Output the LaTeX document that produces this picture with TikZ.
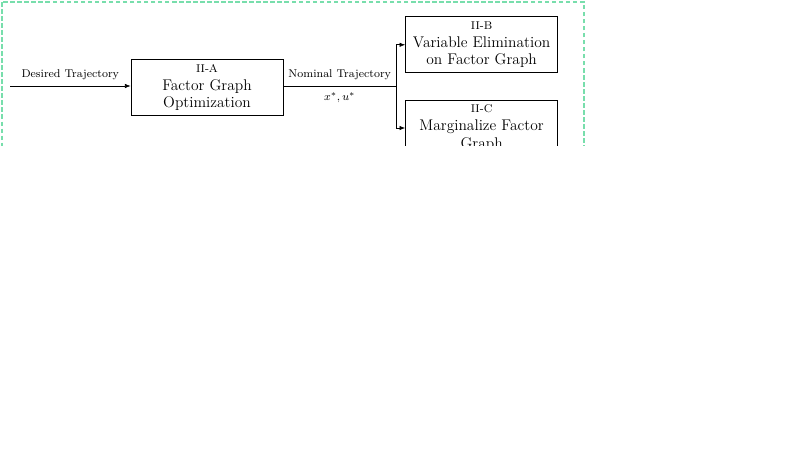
\documentclass[tikz,border=0pt]{standalone}
\usepackage{amsmath}
\usepackage{tikz}
\usetikzlibrary{arrows.meta,positioning,calc}
\definecolor{Frame}{HTML}{78DEAC}

\begin{document}
\begin{tikzpicture}[
  block/.style={draw=black,line width=0.6pt,minimum width=3.8cm,minimum height=1.4cm,align=center,inner sep=1pt,font=\fontsize{11}{12.5}\selectfont},
  lbl/.style={font=\footnotesize},
  frame/.style={draw=Frame,line width=1.1pt,dash pattern=on 3.2pt off 1.8pt},
  arrow/.style={-{Latex[length=1.4mm,width=1.1mm]},line width=0.45pt}
]
\useasboundingbox (0,0) rectangle (20,-11.275);
\begin{scope}
\clip (0,0) rectangle (20,-3.625);
\draw[frame] (0.05,-0.05) rectangle (14.6,-4.2);
\node[block] (opt) at (5.175,-2.19) {{\footnotesize II-A}\\Factor Graph\\Optimization};
\node[block] (elim) at (12.04,-1.12) {{\footnotesize II-B}\\Variable Elimination\\on Factor Graph};
\node[block] (marg) at (12.04,-3.2) {{\footnotesize II-C}\\Marginalize Factor\\Graph};
\coordinate (in) at (0.25,-2.15);
\coordinate (split) at (9.9,-2.15);
\draw[arrow] (in) -- node[lbl,above,yshift=1pt]{Desired Trajectory} (opt.west |- in);
\draw (opt.east |- split) -- node[lbl,above,yshift=1pt]{Nominal Trajectory} node[lbl,below,yshift=-1pt]{$x^*,u^*$} (split);
\draw[arrow] (split) |- (elim.west);
\draw[arrow] (split) |- (marg.west);
\end{scope}
\end{tikzpicture}
\end{document}
